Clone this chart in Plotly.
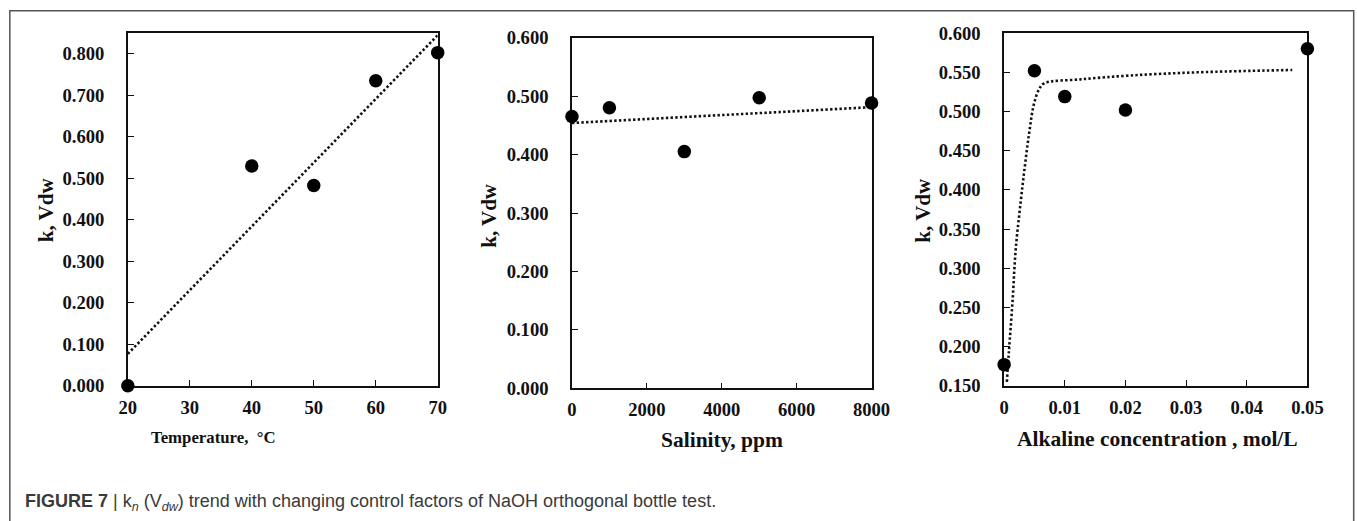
import plotly.graph_objects as go

# ---- data ----
temp_x = [20, 40, 50, 60, 70]
temp_k = [0.000, 0.530, 0.483, 0.735, 0.803]
temp_trend_x = [20, 70]
temp_trend_k = [0.077, 0.845]

sal_x = [0, 1000, 3000, 5000, 8000]
sal_k = [0.465, 0.480, 0.405, 0.497, 0.488]
sal_trend_x = [0, 8000]
sal_trend_k = [0.454, 0.481]

alk_x = [0.0, 0.005, 0.01, 0.02, 0.05]
alk_k = [0.177, 0.552, 0.519, 0.502, 0.580]
alk_trend_x = [0.00045, 0.0008, 0.0014, 0.0019, 0.00275, 0.0034, 0.0041,
               0.0049, 0.0058, 0.0066, 0.0126, 0.0209, 0.0319, 0.0475]
alk_trend_k = [0.155, 0.195, 0.259, 0.323, 0.386, 0.429, 0.471,
               0.509, 0.529, 0.536, 0.541, 0.546, 0.550, 0.553]

# Layout is specified in target-image pixels (1357 x 521).  The page keeps the
# default 8px body margin and is captured over a slightly larger area, so the
# target pixels are mapped onto the page through SX / SY before use.
IMG_W, IMG_H = 1357, 521
SX, SY = 0.980, 0.966
BODY_MARGIN = 8
W = round(IMG_W / SX) - BODY_MARGIN
H = round(IMG_H / SY) - BODY_MARGIN


def px(x):
    return (x / SX - BODY_MARGIN) / W


def py(y):
    return 1 - (y / SY - BODY_MARGIN) / H


SERIF = "Liberation Serif, Times New Roman, serif"
SANS = "Liberation Sans, Arial, Helvetica, sans-serif"
INK = "#111111"

fig = go.Figure()

panels = [
    (temp_x, temp_k, temp_trend_x, temp_trend_k, "linear"),
    (sal_x, sal_k, sal_trend_x, sal_trend_k, "linear"),
    (alk_x, alk_k, alk_trend_x, alk_trend_k, "spline"),
]
for i, (x, k, tx, tk, shape) in enumerate(panels, start=1):
    xa = "x" if i == 1 else f"x{i}"
    ya = "y" if i == 1 else f"y{i}"
    fig.add_trace(go.Scatter(
        x=tx, y=tk, mode="lines", xaxis=xa, yaxis=ya,
        line=dict(color=INK, width=2.6, dash="2.4px,2.3px", shape=shape),
        hoverinfo="skip", showlegend=False,
    ))
    fig.add_trace(go.Scatter(
        x=x, y=k, mode="markers", xaxis=xa, yaxis=ya, cliponaxis=False,
        marker=dict(color="black", size=13.5, line=dict(width=0)),
        showlegend=False,
    ))

tickfont = dict(family=SERIF, size=18.6, color=INK, weight="bold")


def axis_common():
    return dict(
        showline=True, linecolor=INK, linewidth=1.5, mirror=True,
        ticks="inside", ticklen=6, tickwidth=1.4, tickcolor=INK,
        showgrid=False, zeroline=False, tickfont=tickfont,
        layer="below traces", fixedrange=True,
    )


# plot-area boxes in target pixels (left, right, top, bottom)
boxes = [
    (126.7, 436.7, 31.0, 385.7),
    (571.0, 870.7, 35.5, 388.3),
    (1003.3, 1306.7, 31.0, 385.7),
]
x_specs = [
    dict(range=[20, 70], dtick=10, tick0=20),
    dict(range=[0, 8000], dtick=2000, tick0=0),
    dict(range=[0, 0.05], dtick=0.01, tick0=0),
]
y_specs = [
    dict(range=[0, 0.85], dtick=0.1, tick0=0, tickformat=".3f"),
    dict(range=[0, 0.6], dtick=0.1, tick0=0, tickformat=".3f"),
    dict(range=[0.15, 0.6], dtick=0.05, tick0=0.15, tickformat=".3f"),
]

layout_axes = {}
for i, ((l, r, t, b), xs, ys) in enumerate(zip(boxes, x_specs, y_specs), start=1):
    xname = "xaxis" if i == 1 else f"xaxis{i}"
    yname = "yaxis" if i == 1 else f"yaxis{i}"
    ya = "y" if i == 1 else f"y{i}"
    xa = "x" if i == 1 else f"x{i}"
    layout_axes[xname] = dict(domain=[px(l), px(r)], anchor=ya,
                              ticklabelstandoff=4, **axis_common(), **xs)
    layout_axes[yname] = dict(domain=[py(b), py(t)], anchor=xa,
                              ticklabelstandoff=18, **axis_common(), **ys)

annotations = []
# axis titles
x_titles = [
    ("Temperature,  °C", 212, 438, 16.8),
    ("Salinity, ppm", 721, 440, 21.5),
    ("Alkaline concentration , mol/L", 1157, 439, 21.5),
]
for text, x, y, size in x_titles:
    annotations.append(dict(
        text=text, x=px(x), y=py(y), xref="paper", yref="paper",
        showarrow=False, xanchor="center", yanchor="middle",
        font=dict(family=SERIF, size=size, color=INK, weight="bold"),
    ))
y_titles = [(45, 209), (487.7, 214), (922.7, 209)]
for x, y in y_titles:
    annotations.append(dict(
        text="k, Vdw", x=px(x), y=py(y), xref="paper", yref="paper",
        showarrow=False, xanchor="center", yanchor="middle", textangle=-90,
        font=dict(family=SERIF, size=21, color=INK, weight="bold"),
    ))

# figure caption
annotations.append(dict(
    text=("<b>FIGURE 7</b> | k<sub><i>n</i></sub> (V<sub><i>dw</i></sub>) "
          "trend with changing control factors of NaOH orthogonal bottle test."),
    x=px(22), y=py(503), xref="paper", yref="paper", showarrow=False,
    xanchor="left", yanchor="middle",
    font=dict(family=SANS, size=18.0, color="#3a3a3a"),
))

fig.update_layout(
    width=W, height=H, margin=dict(l=0, r=0, t=0, b=0),
    paper_bgcolor="white", plot_bgcolor="white",
    annotations=annotations,
    shapes=[dict(
        type="rect", xref="paper", yref="paper",
        x0=0.0006, x1=px(1353), y0=-0.1, y1=0.9986,
        line=dict(color="#555555", width=1.5), layer="below",
    )],
    **layout_axes,
)

fig.write_html("out.html")
